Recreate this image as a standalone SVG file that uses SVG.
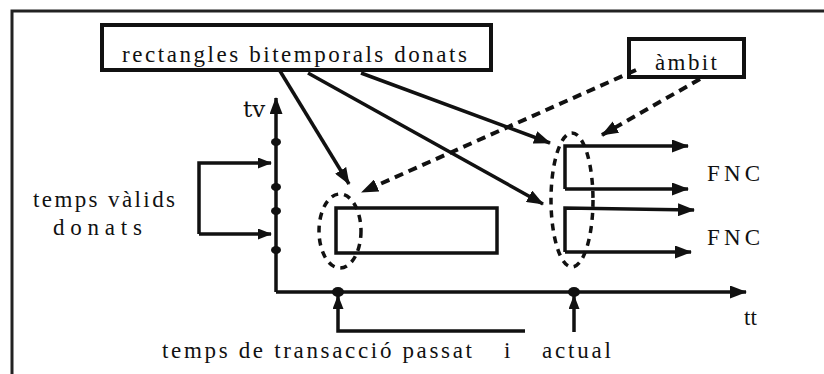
<svg xmlns="http://www.w3.org/2000/svg" width="824" height="374" viewBox="0 0 824 374">
  <style>
    .box { fill: #fff; stroke: #111; stroke-width: 4; }
    .ln { fill: none; stroke: #111; stroke-width: 3.5; }
    .dash { fill: none; stroke: #111; stroke-width: 4; stroke-dasharray: 9 6; }
    .oval { fill: none; stroke: #111; stroke-width: 3.5; stroke-dasharray: 7 6; }
    .dot { fill: #111; }
  </style>
  <defs>
    <marker id="ah" viewBox="0 0 17 13" refX="16" refY="6.5" markerWidth="17" markerHeight="13" orient="auto" markerUnits="userSpaceOnUse">
      <path d="M0,0 L17,6.5 L0,13 z" fill="#111"/>
    </marker>
    <marker id="ahs" viewBox="0 0 14 11" refX="13" refY="5.5" markerWidth="14" markerHeight="11" orient="auto" markerUnits="userSpaceOnUse">
      <path d="M0,0 L14,5.5 L0,11 z" fill="#111"/>
    </marker>
  </defs>

  <rect width="824" height="374" fill="#fff"/>
  <!-- outer frame -->
  <path d="M12,374 V11 H824" fill="none" stroke="#222" stroke-width="3"/>

  <g font-family="'Liberation Serif', 'DejaVu Serif', serif" font-size="23" fill="#111">

  <!-- axes -->
  <g id="axes">
    <path class="ln" d="M276,292 V98" marker-end="url(#ah)"/>
    <path class="ln" d="M276,292 H746" marker-end="url(#ah)"/>
    <text x="243" y="117" font-family="DejaVu Serif">tv</text>
    <text x="744" y="325" font-family="serif">tt</text>
    <ellipse class="dot" cx="276" cy="142" rx="5" ry="4"/>
    <ellipse class="dot" cx="276" cy="187" rx="5" ry="4"/>
    <ellipse class="dot" cx="276" cy="211" rx="5" ry="4"/>
    <ellipse class="dot" cx="276" cy="250" rx="5" ry="4"/>
    <ellipse class="dot" cx="338" cy="292" rx="6" ry="5"/>
    <ellipse class="dot" cx="574" cy="292" rx="6" ry="5"/>
  </g>

  <g id="rectangles-bitemporals">
    <rect class="box" x="102" y="25" width="389" height="45"/>
    <text x="122" y="62" textLength="345" lengthAdjust="spacing">rectangles bitemporals donats</text>
  </g>

  <g id="ambit">
    <rect class="box" x="629" y="39" width="115" height="38"/>
    <text x="655" y="70" textLength="62" lengthAdjust="spacing">àmbit</text>
  </g>

  <g id="temps-valids">
    <text x="33" y="207" textLength="142" lengthAdjust="spacing">temps vàlids</text>
    <text x="53" y="235" textLength="89" lengthAdjust="spacing">donats</text>
  </g>

  <g id="rectangle-passat">
    <rect fill="none" stroke="#111" stroke-width="3.5" x="336" y="208" width="161" height="45"/>
    <ellipse class="oval" cx="340" cy="231" rx="21" ry="37"/>
  </g>

  <g id="fnc">
    <path class="ln" d="M565,189 V146 H688" marker-end="url(#ah)"/>
    <path class="ln" d="M565,189 H688" marker-end="url(#ah)"/>
    <path class="ln" d="M565,252 V208 L694,210" marker-end="url(#ah)"/>
    <path class="ln" d="M565,252 H691" marker-end="url(#ah)"/>
    <ellipse class="oval" cx="572" cy="200" rx="21" ry="67"/>
    <text x="707" y="181" textLength="53" lengthAdjust="spacing">FNC</text>
    <text x="707" y="245" textLength="53" lengthAdjust="spacing">FNC</text>
  </g>

  <g id="temps-transaccio">
    <text x="162" y="358" textLength="310" lengthAdjust="spacing">temps de transacció passat</text>
    <text x="504" y="358">i</text>
    <text x="542" y="358" textLength="69" lengthAdjust="spacing">actual</text>
  </g>

  <g id="connectors">
    <path class="ln" d="M280,71 L349,184" marker-end="url(#ah)"/>
    <path class="ln" d="M308,73 L543,204" marker-end="url(#ah)"/>
    <path class="ln" d="M361,73 L550,143" marker-end="url(#ah)"/>
    <path class="dash" d="M636,70 L362,192" marker-end="url(#ah)"/>
    <path class="dash" d="M700,79 L602,135" marker-end="url(#ah)"/>
    <path class="ln" d="M199,234 V163 H271" marker-end="url(#ahs)"/>
    <path class="ln" d="M199,234 H271" marker-end="url(#ahs)"/>
    <path class="ln" d="M525,331 H338 V296" marker-end="url(#ahs)"/>
    <path class="ln" d="M574,332 V296" marker-end="url(#ahs)"/>
  </g>

  </g>
</svg>
